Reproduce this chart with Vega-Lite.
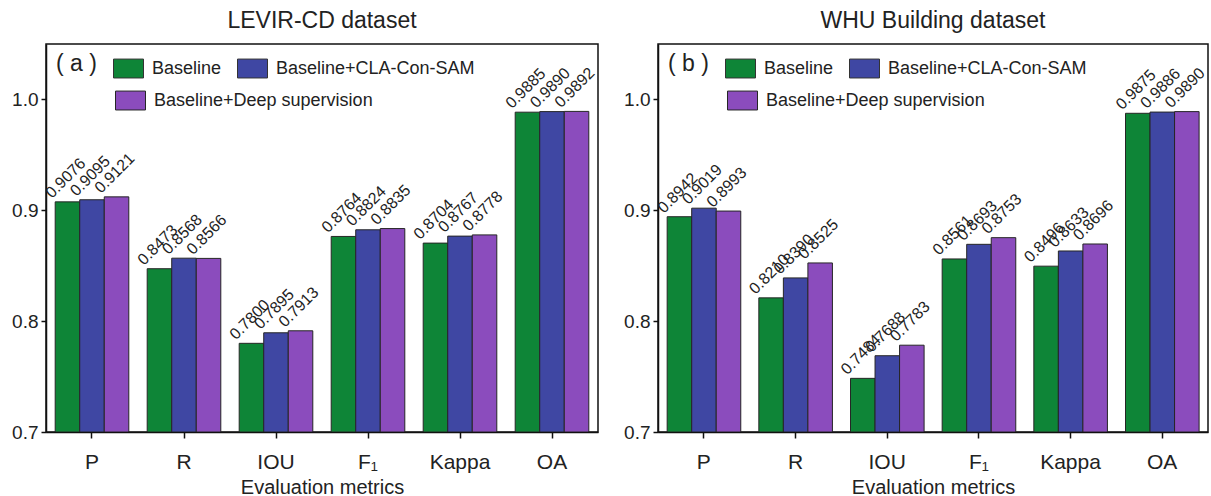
{
  "$schema": "https://vega.github.io/schema/vega-lite/v6.json",
  "padding": {"left": 10, "top": 9, "right": 0, "bottom": 0},
  "background": "white",
  "data": {"values": [
    {"dataset": "LEVIR", "metric": "P", "method": "Baseline", "value": 0.9076},
    {"dataset": "LEVIR", "metric": "P", "method": "Baseline+CLA-Con-SAM", "value": 0.9095},
    {"dataset": "LEVIR", "metric": "P", "method": "Baseline+Deep supervision", "value": 0.9121},
    {"dataset": "LEVIR", "metric": "R", "method": "Baseline", "value": 0.8473},
    {"dataset": "LEVIR", "metric": "R", "method": "Baseline+CLA-Con-SAM", "value": 0.8568},
    {"dataset": "LEVIR", "metric": "R", "method": "Baseline+Deep supervision", "value": 0.8566},
    {"dataset": "LEVIR", "metric": "IOU", "method": "Baseline", "value": 0.7800},
    {"dataset": "LEVIR", "metric": "IOU", "method": "Baseline+CLA-Con-SAM", "value": 0.7895},
    {"dataset": "LEVIR", "metric": "IOU", "method": "Baseline+Deep supervision", "value": 0.7913},
    {"dataset": "LEVIR", "metric": "F₁", "method": "Baseline", "value": 0.8764},
    {"dataset": "LEVIR", "metric": "F₁", "method": "Baseline+CLA-Con-SAM", "value": 0.8824},
    {"dataset": "LEVIR", "metric": "F₁", "method": "Baseline+Deep supervision", "value": 0.8835},
    {"dataset": "LEVIR", "metric": "Kappa", "method": "Baseline", "value": 0.8704},
    {"dataset": "LEVIR", "metric": "Kappa", "method": "Baseline+CLA-Con-SAM", "value": 0.8767},
    {"dataset": "LEVIR", "metric": "Kappa", "method": "Baseline+Deep supervision", "value": 0.8778},
    {"dataset": "LEVIR", "metric": "OA", "method": "Baseline", "value": 0.9885},
    {"dataset": "LEVIR", "metric": "OA", "method": "Baseline+CLA-Con-SAM", "value": 0.9890},
    {"dataset": "LEVIR", "metric": "OA", "method": "Baseline+Deep supervision", "value": 0.9892},
    {"dataset": "WHU", "metric": "P", "method": "Baseline", "value": 0.8942},
    {"dataset": "WHU", "metric": "P", "method": "Baseline+CLA-Con-SAM", "value": 0.9019},
    {"dataset": "WHU", "metric": "P", "method": "Baseline+Deep supervision", "value": 0.8993},
    {"dataset": "WHU", "metric": "R", "method": "Baseline", "value": 0.8210},
    {"dataset": "WHU", "metric": "R", "method": "Baseline+CLA-Con-SAM", "value": 0.8390},
    {"dataset": "WHU", "metric": "R", "method": "Baseline+Deep supervision", "value": 0.8525},
    {"dataset": "WHU", "metric": "IOU", "method": "Baseline", "value": 0.7484},
    {"dataset": "WHU", "metric": "IOU", "method": "Baseline+CLA-Con-SAM", "value": 0.7688},
    {"dataset": "WHU", "metric": "IOU", "method": "Baseline+Deep supervision", "value": 0.7783},
    {"dataset": "WHU", "metric": "F₁", "method": "Baseline", "value": 0.8561},
    {"dataset": "WHU", "metric": "F₁", "method": "Baseline+CLA-Con-SAM", "value": 0.8693},
    {"dataset": "WHU", "metric": "F₁", "method": "Baseline+Deep supervision", "value": 0.8753},
    {"dataset": "WHU", "metric": "Kappa", "method": "Baseline", "value": 0.8496},
    {"dataset": "WHU", "metric": "Kappa", "method": "Baseline+CLA-Con-SAM", "value": 0.8633},
    {"dataset": "WHU", "metric": "Kappa", "method": "Baseline+Deep supervision", "value": 0.8696},
    {"dataset": "WHU", "metric": "OA", "method": "Baseline", "value": 0.9875},
    {"dataset": "WHU", "metric": "OA", "method": "Baseline+CLA-Con-SAM", "value": 0.9886},
    {"dataset": "WHU", "metric": "OA", "method": "Baseline+Deep supervision", "value": 0.9890}
  ]},
  "bounds": "flush",
  "spacing": 60,
  "resolve": {"scale": {"fill": "independent", "stroke": "independent", "y": "independent", "x": "independent"}, "legend": {"fill": "independent", "stroke": "independent"}},
  "hconcat": [
    {
      "width": 552, "height": 388,
      "title": {"text": "LEVIR-CD dataset"},
      "transform": [{"filter": "datum.dataset === 'LEVIR'"}],
      "encoding": {
        "x": {"field": "metric", "type": "nominal", "sort": ["P", "R", "IOU", "F₁", "Kappa", "OA"], "scale": {"paddingInner": 0.2, "paddingOuter": 0.1}, "axis": {"title": "Evaluation metrics", "labelAngle": 0}},
        "xOffset": {"field": "method", "type": "nominal", "sort": ["Baseline", "Baseline+CLA-Con-SAM", "Baseline+Deep supervision"]},
        "y": {"field": "value", "type": "quantitative", "scale": {"domain": [0.7, 1.05], "nice": false, "zero": false}, "axis": {"title": null, "values": [0.7, 0.8, 0.9, 1.0], "format": ".1f"}}
      },
      "layer": [
        {
          "mark": {"type": "bar", "strokeWidth": 1, "clip": true},
          "encoding": {
            "y2": {"datum": 0.7},
            "fill": {"field": "method", "type": "nominal", "sort": ["Baseline", "Baseline+CLA-Con-SAM", "Baseline+Deep supervision"], "scale": {"range": ["#0e8537", "#3f47a3", "#8b4cbd"]}, "legend": {"title": "( a )", "values": ["Baseline", "Baseline+CLA-Con-SAM"], "orient": "none", "legendX": 10, "legendY": 9}},
            "stroke": {"field": "method", "type": "nominal", "scale": {"domain": ["Baseline+Deep supervision", "Baseline", "Baseline+CLA-Con-SAM"], "range": ["#262626", "#262626", "#262626"]}, "legend": {"title": null, "values": ["Baseline+Deep supervision"], "orient": "none", "legendX": 69, "legendY": 41, "symbolFillColor": "#8b4cbd"}}
          }
        },
        {
          "mark": {"type": "text", "angle": -45, "align": "left", "baseline": "alphabetic", "dx": -9, "dy": -13, "fontSize": 16, "font": "Liberation Sans", "color": "#222"},
          "encoding": {"text": {"field": "value", "type": "quantitative", "format": ".4f"}}
        }
      ]
    },
    {
      "width": 550, "height": 388,
      "title": {"text": "WHU Building dataset"},
      "transform": [{"filter": "datum.dataset === 'WHU'"}],
      "encoding": {
        "x": {"field": "metric", "type": "nominal", "sort": ["P", "R", "IOU", "F₁", "Kappa", "OA"], "scale": {"paddingInner": 0.2, "paddingOuter": 0.1}, "axis": {"title": "Evaluation metrics", "labelAngle": 0}},
        "xOffset": {"field": "method", "type": "nominal", "sort": ["Baseline", "Baseline+CLA-Con-SAM", "Baseline+Deep supervision"]},
        "y": {"field": "value", "type": "quantitative", "scale": {"domain": [0.7, 1.05], "nice": false, "zero": false}, "axis": {"title": null, "values": [0.7, 0.8, 0.9, 1.0], "format": ".1f"}}
      },
      "layer": [
        {
          "mark": {"type": "bar", "strokeWidth": 1, "clip": true},
          "encoding": {
            "y2": {"datum": 0.7},
            "fill": {"field": "method", "type": "nominal", "sort": ["Baseline", "Baseline+CLA-Con-SAM", "Baseline+Deep supervision"], "scale": {"range": ["#0e8537", "#3f47a3", "#8b4cbd"]}, "legend": {"title": "( b )", "values": ["Baseline", "Baseline+CLA-Con-SAM"], "orient": "none", "legendX": 10, "legendY": 9}},
            "stroke": {"field": "method", "type": "nominal", "scale": {"domain": ["Baseline+Deep supervision", "Baseline", "Baseline+CLA-Con-SAM"], "range": ["#262626", "#262626", "#262626"]}, "legend": {"title": null, "values": ["Baseline+Deep supervision"], "orient": "none", "legendX": 69, "legendY": 41, "symbolFillColor": "#8b4cbd"}}
          }
        },
        {
          "mark": {"type": "text", "angle": -45, "align": "left", "baseline": "alphabetic", "dx": -9, "dy": -13, "fontSize": 16, "font": "Liberation Sans", "color": "#222"},
          "encoding": {"text": {"field": "value", "type": "quantitative", "format": ".4f"}}
        }
      ]
    }
  ],
  "config": {
    "font": "Liberation Sans",
    "view": {"stroke": "#111", "strokeWidth": 1.5},
    "title": {"fontSize": 23, "fontWeight": "normal", "color": "#222", "offset": 11, "font": "Liberation Sans"},
    "axis": {"grid": false, "domainColor": "#111", "domainWidth": 1.5, "tickColor": "#111", "tickWidth": 1.5, "labelColor": "#222", "titleColor": "#222", "labelFont": "Liberation Sans", "titleFont": "Liberation Sans", "titleFontWeight": "normal"},
    "axisY": {"labelFontSize": 19, "tickSize": 5, "labelPadding": 3},
    "axisX": {"labelFontSize": 21, "tickSize": 6, "labelPadding": 13, "titleFontSize": 20, "titlePadding": 5, "domain": true},
    "legend": {
      "direction": "horizontal",
      "titleOrient": "left",
      "titleAnchor": "start",
      "titleBaseline": "top",
      "titleFontSize": 23,
      "titleFontWeight": "normal",
      "titleColor": "#222",
      "titlePadding": 16,
      "columns": 2,
      "symbolType": "M-1,-0.63H1V0.63H-1Z",
      "symbolSize": 900,
      "symbolStrokeColor": "#333",
      "symbolStrokeWidth": 1,
      "symbolOpacity": 1,
      "labelFontSize": 18,
      "labelColor": "#222",
      "labelOffset": 8,
      "labelLimit": 400,
      "columnPadding": 13,
      "rowPadding": 2,
      "padding": 0
    }
  }
}
